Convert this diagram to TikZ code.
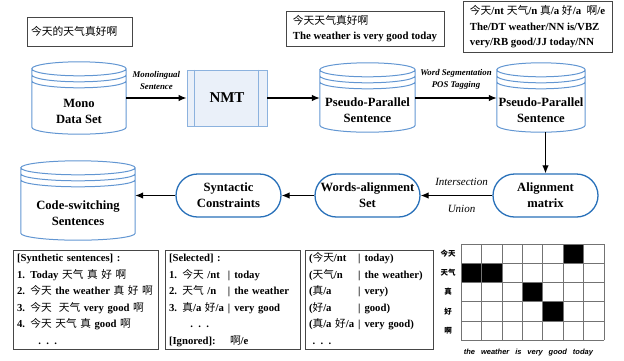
\documentclass[tikz,border=0pt]{standalone}
\usepackage{fontspec}
\setmainfont{Liberation Serif}
\setsansfont{Liberation Sans}
\newfontfamily\cjk{Noto Sans CJK SC}
\usepackage{tikz}
\usetikzlibrary{arrows.meta,calc}
\definecolor{dbblue}{RGB}{98,150,210}
\definecolor{procblue}{RGB}{40,112,185}
\definecolor{nmtfill}{RGB}{234,240,249}
\definecolor{nmtblue}{RGB}{140,178,222}
\definecolor{boxgray}{RGB}{70,70,70}
\newcommand{\zh}[1]{{\cjk\mdseries #1}}

\begin{document}
\begin{tikzpicture}[
    x=1pt, y=1pt,
    every node/.style={font=\bfseries\fontsize{12.6}{16}\selectfont},
    note/.style={draw=boxgray, line width=0.8pt, align=left, inner sep=4pt, font=\bfseries\fontsize{10.8}{15.5}\selectfont},
    listbox/.style={draw=boxgray, line width=0.8pt, align=left, inner xsep=4pt, inner ysep=0pt, minimum height=99pt, font=\bfseries\fontsize{10.7}{16.5}\selectfont},
    dbase/.style={minimum width=94pt, minimum height=43pt, align=center, inner sep=0pt},
    dbshape/.style={draw=dbblue, line width=1pt},
    proc/.style={rectangle, rounded corners=21.5pt, draw=procblue, line width=1.3pt, minimum width=105pt, minimum height=43pt, inner sep=0pt, align=center},
    nmt/.style={draw=nmtblue, fill=nmtfill, line width=0.9pt, minimum width=80pt, minimum height=56pt, font=\bfseries\fontsize{15}{18}\selectfont},
    arrow/.style={draw, line width=1.1pt, -{Latex[length=8pt,width=6.5pt]}},
    steplab/.style={font=\bfseries\itshape\fontsize{8.8}{12}\selectfont, align=center},
    oplab/.style={font=\itshape\fontsize{11}{13}\selectfont},
    gridline/.style={draw=black!55, line width=0.6pt},
    rowlab/.style={font=\cjk\bfseries\fontsize{7.5}{9}\selectfont},
    collab/.style={font=\sffamily\bfseries\itshape\fontsize{7.5}{9}\selectfont}
]
\useasboundingbox (0,0) rectangle (624,-360);

% Notes
\node[note, text width=97pt, minimum height=29pt] (raw) at (79.5,-31.5) {\zh{今天的天气真好啊}};
\node[note, minimum width=158pt, minimum height=35pt] (pair) at (365,-28.5) {\zh{今天天气真好啊}\\The weather is very good today};
\node[note, minimum width=149pt, minimum height=51pt] (tags) at (537.5,-27) {\zh{今天}/nt \zh{天气}/n \zh{真}/a \zh{好}/a\ \ \zh{啊}/e\\The/DT weather/NN is/VBZ\\very/RB good/JJ today/NN};

% Nodes
\node[dbase, minimum height=46pt] (mono) at (79,-111) {Mono\\Data Set};
\node[nmt] (nmt) at (227,-98) {NMT};
\node[dbase, minimum width=95pt] (pseudo) at (367.5,-110.5) {Pseudo-Parallel\\Sentence};
\node[dbase, minimum width=88pt] (tagged) at (541,-110.5) {Pseudo-Parallel\\Sentence};
\node[proc] (align) at (545.5,-195.5) {Alignment\\matrix};
\node[proc] (wset) at (367.5,-195.5) {Words-alignment\\Set};
\node[proc] (syn) at (228.5,-195.5) {Syntactic\\Constraints};
\node[dbase, minimum width=114pt, minimum height=53pt] (codesw) at (78,-213.5) {Code-switching\\Sentences};

% Cylinders
\foreach \db in {mono,pseudo,tagged,codesw}
  \draw[dbshape] let \p1=(\db.north west), \p2=(\db.south east), \n1={(\x2-\x1)/2} in
    (\x1,\y1+19pt) -- (\x1,\y2+7pt) arc[start angle=180, end angle=360, x radius=\n1, y radius=7pt]
    -- (\x2,\y1+19pt) arc[start angle=0, end angle=360, x radius=\n1, y radius=7pt]
    (\x1,\y1+13pt) arc[start angle=180, end angle=360, x radius=\n1, y radius=7pt]
    (\x1,\y1+7pt) arc[start angle=180, end angle=360, x radius=\n1, y radius=7pt];
\draw[draw=nmtblue, line width=0.9pt] ([xshift=8pt]nmt.north west) -- ([xshift=8pt]nmt.south west)
  ([xshift=-9pt]nmt.north east) -- ([xshift=-9pt]nmt.south east);

% Arrows
\draw[arrow] (mono.east |- nmt.west) -- (nmt.west) node[steplab, midway, above=5pt] (lmono) {Monolingual\\Sentence};
\draw[arrow] (nmt.east) -- (pseudo.west |- nmt.east);
\draw[arrow] (pseudo.east |- nmt.east) -- (tagged.west |- nmt.east) node[steplab, midway, above=5pt] (lseg) {Word Segmentation\\POS Tagging};
\draw[arrow] (tagged.south -| align.north) -- (align.north);
\draw[arrow] (align.west) -- (wset.east) node[oplab, pos=0.43, above=6pt] (linter) {Intersection} node[oplab, pos=0.43, below=6pt] (lunion) {Union};
\draw[arrow] (wset.west) -- (syn.east);
\draw[arrow] (syn.west) -- (codesw.east |- syn.west);

% Examples
\node[listbox, text width=137pt] (synth) at (85.5,-299.5) {\begin{tabular}{@{}l@{}}
[Synthetic sentences] :\\
1. Today \zh{天气 真 好 啊}\\
2. \zh{今天} the weather \zh{真 好 啊}\\
3. \zh{今天\ \ 天气} very good \zh{啊}\\
4. \zh{今天 天气 真} good \zh{啊}\\
\qquad . . .
\end{tabular}};
\node[listbox, text width=127pt] (select) at (232.5,-299.5) {\begin{tabular}{@{}l@{\hspace{4pt}}l@{\hspace{4pt}}l@{}}
\multicolumn{3}{@{}l}{[Selected] :}\\
1. \zh{今天} /nt & | & today\\
2. \zh{天气} /n & | & the weather\\
3. \zh{真}/a \zh{好}/a & | & very good\\
\multicolumn{3}{@{}l}{\qquad . . .}\\
\multicolumn{3}{@{}l}{[Ignored]:\quad\ \zh{啊}/e}
\end{tabular}};
\node[listbox, text width=120pt] (pairs) at (369,-299.5) {\begin{tabular}{@{}l@{\hspace{4pt}}l@{\hspace{4pt}}l@{}}
(\zh{今天}/nt & | & today)\\
(\zh{天气}/n & | & the weather)\\
(\zh{真}/a & | & very)\\
(\zh{好}/a & | & good)\\
(\zh{真}/a \zh{好}/a & | & very good)\\
\multicolumn{3}{@{}l}{\ . . .}
\end{tabular}};

% Alignment grid
\begin{scope}[shift={(461,-340)}, x=20.43pt, y=19.2pt]
  \fill (5,4) rectangle (6,5) (0,3) rectangle (2,4) (3,2) rectangle (4,3) (4,1) rectangle (5,2);
  \draw[gridline, step=1] (0,0) grid (7,5);
  \foreach \w [count=\i] in {今天,天气,真,好,啊}
    \node[rowlab] (row\i) at (-0.63,5.5-\i) {\w};
  \node[collab] (cols) at (3.3,-0.63) {\spaceskip=5.9pt\relax the weather is very good today};
\end{scope}

\end{tikzpicture}
\end{document}
